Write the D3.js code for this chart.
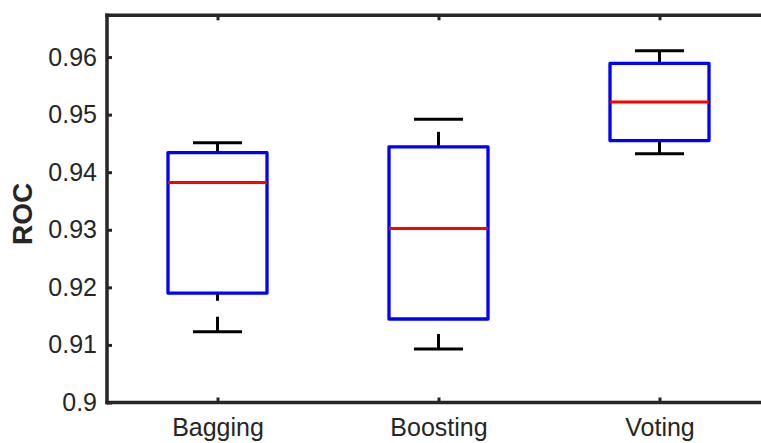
<!DOCTYPE html>
<html>
<head>
<meta charset="utf-8">
<script src="https://cdn.jsdelivr.net/npm/d3@7"></script>
<style>
  body { margin: 0; background: #fff; overflow: hidden; }
  svg { display: block; overflow: hidden; }
  svg text { font-family: "Liberation Sans", Arial, Helvetica, sans-serif; fill: #262626; }
</style>
</head>
<body>
<div id="chart"></div>
<script>
// box plot summary per method
var categories = ["Bagging", "Boosting", "Voting"];
var whiskerLow = [0.9123, 0.9093, 0.9432];
var q1 = [0.9190, 0.9145, 0.9455];
var medians = [0.9382, 0.9302, 0.9522];
var q3 = [0.9434, 0.9444, 0.9589];
var whiskerHigh = [0.9451, 0.9492, 0.9611];
var yTicks = [0.9, 0.91, 0.92, 0.93, 0.94, 0.95, 0.96];

var width = 761, height = 443;
var margin = {top: 15.3, left: 107, bottom: 40.5};

var svg = d3.select("#chart")
    .append("svg")
    .attr("width", width)
    .attr("height", height);

var x = d3.scaleLinear()
    .domain([0.5, 3.5])
    .range([margin.left, margin.left + 3 * 221]);

var y = d3.scaleLinear()
    .domain([0.9, 0.96725])
    .range([height - margin.bottom, margin.top]);

var boxHalf = 0.224, capHalf = 0.111;

var data = categories.map(function(c, i) {
    return {name: c, pos: i + 1, lo: whiskerLow[i], q1: q1[i], med: medians[i], q3: q3[i], hi: whiskerHigh[i]};
});

var g = svg.append("g");

// whiskers, dashed, drawn bottom to top
g.selectAll(".wlow").data(data).enter().append("line")
    .attr("x1", d => x(d.pos)).attr("x2", d => x(d.pos))
    .attr("y1", d => y(d.lo)).attr("y2", d => y(d.q1))
    .attr("stroke", "#000").attr("stroke-width", 3)
    .attr("stroke-dasharray", "15,16");
g.selectAll(".whigh").data(data).enter().append("line")
    .attr("x1", d => x(d.pos)).attr("x2", d => x(d.pos))
    .attr("y1", d => y(d.q3)).attr("y2", d => y(d.hi))
    .attr("stroke", "#000").attr("stroke-width", 3)
    .attr("stroke-dasharray", "15,16");

// caps
["lo", "hi"].forEach(function(k) {
    g.selectAll(".cap-" + k).data(data).enter().append("line")
        .attr("x1", d => x(d.pos - capHalf)).attr("x2", d => x(d.pos + capHalf))
        .attr("y1", d => y(d[k])).attr("y2", d => y(d[k]))
        .attr("stroke", "#000").attr("stroke-width", 3);
});

// boxes
g.selectAll(".box").data(data).enter().append("rect")
    .attr("x", d => x(d.pos - boxHalf))
    .attr("width", d => x(d.pos + boxHalf) - x(d.pos - boxHalf))
    .attr("y", d => y(d.q3))
    .attr("height", d => y(d.q1) - y(d.q3))
    .attr("fill", "none")
    .attr("stroke", "#0000ff")
    .attr("stroke-width", 3.3)
    .attr("stroke-linejoin", "round");

// medians
g.selectAll(".median").data(data).enter().append("line")
    .attr("x1", d => x(d.pos - boxHalf)).attr("x2", d => x(d.pos + boxHalf))
    .attr("y1", d => y(d.med)).attr("y2", d => y(d.med))
    .attr("stroke", "#ff0000").attr("stroke-width", 3);

// axes (MATLAB style: inward ticks, box on)
var yAxis = d3.axisLeft(y).tickValues(yTicks).tickSize(-5).tickPadding(10)
    .tickFormat(d => String(+d.toFixed(2)));
var gy = svg.append("g").attr("transform", "translate(" + margin.left + ",0)").call(yAxis);
gy.select(".domain").remove();
gy.selectAll("line").attr("stroke", "#262626").attr("stroke-width", 3);
gy.selectAll("text").style("font-size", "25px").attr("fill", "#262626");

var xAxis = d3.axisBottom(x).tickValues([1, 2, 3]).tickSize(-5).tickPadding(16)
    .tickFormat((d, i) => categories[i]);
var gx = svg.append("g").attr("transform", "translate(0," + y(0.9) + ")").call(xAxis);
gx.select(".domain").remove();
gx.selectAll("line").attr("stroke", "#262626").attr("stroke-width", 3);
gx.selectAll("text").style("font-size", "25px").attr("fill", "#262626");

var xTop = d3.axisTop(x).tickValues([1, 2, 3]).tickSize(-5).tickFormat("");
var gt = svg.append("g").attr("transform", "translate(0," + y.range()[1] + ")").call(xTop);
gt.select(".domain").remove();
gt.selectAll("line").attr("stroke", "#262626").attr("stroke-width", 3);

// frame: left, top and bottom lines only (the right edge lies past the window)
var x0 = x.range()[0], yb = y.range()[0], yt = y.range()[1];
svg.append("line")
    .attr("x1", x0).attr("x2", x0).attr("y1", yt - 1.75).attr("y2", yb + 1.75)
    .attr("stroke", "#262626").attr("stroke-width", 3.5);
[yt, yb].forEach(function(yy) {
    svg.append("line")
        .attr("x1", x0 - 1.75).attr("x2", width + 20).attr("y1", yy).attr("y2", yy)
        .attr("stroke", "#262626").attr("stroke-width", 3.5);
});

// y label
svg.append("text")
    .attr("transform", "translate(32," + ((y.range()[0] + y.range()[1]) / 2 + 5) + ") rotate(-90)")
    .attr("text-anchor", "middle")
    .style("font-size", "28px")
    .style("font-weight", "bold")
    .text("ROC");
</script>
</body>
</html>
